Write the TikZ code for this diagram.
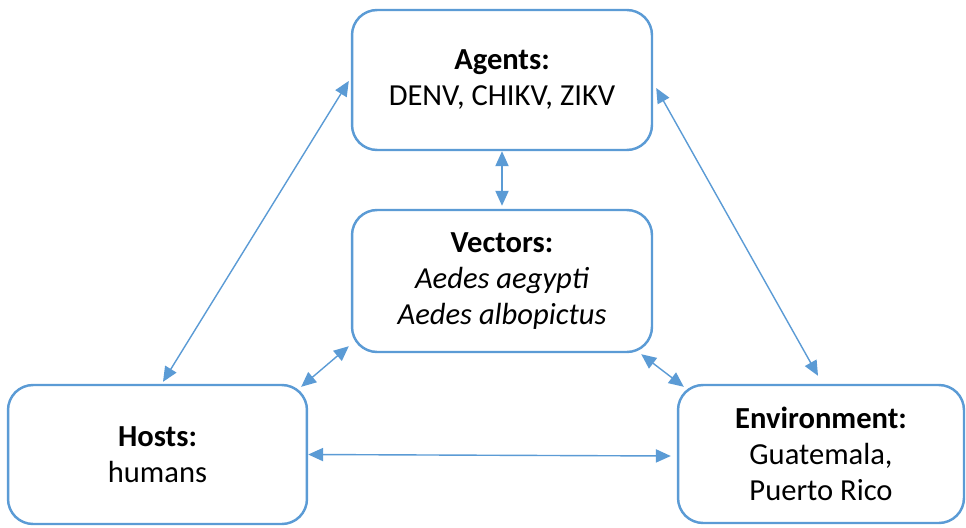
\documentclass[tikz,border=0pt]{standalone}
\usepackage{fontspec}
\setmainfont{Carlito}
\definecolor{boxblue}{RGB}{91, 155, 213}
\usetikzlibrary{arrows.meta, positioning, calc}

\tikzset{
  factorbox/.style={draw=boxblue, line width=1.4pt, rounded corners=0.5cm, fill=white,
    align=center, inner sep=4pt, font=\fontsize{17.4}{20.5}\selectfont},
  linkarrow/.style={draw=boxblue, line width=0.8pt,
    {Triangle[length=8.5pt, width=7.5pt]}-{Triangle[length=8.5pt, width=7.5pt]}}
}

\begin{document}
\begin{tikzpicture}[x=0.02cm, y=-0.02cm]
  \useasboundingbox (0, 0) rectangle (966, 527);

  % Boxes
  \node[factorbox, minimum width=6cm, minimum height=2.8cm] (agents) at (502, 80)
    {\textbf{Agents:}\\DENV, CHIKV, ZIKV};
  \node[factorbox, minimum width=6cm, minimum height=2.84cm] (vectors) at (502, 281)
    {\textbf{Vectors:}\\\textit{Aedes aegypti}\\\textit{Aedes albopictus}};
  \node[factorbox, minimum width=5.98cm, minimum height=2.78cm] (hosts) at (157.5, 454.5)
    {\textbf{Hosts:}\\humans};
  \node[factorbox, minimum width=5.72cm, minimum height=2.76cm] (env) at (821, 454)
    {\textbf{Environment:}\\Guatemala,\\Puerto Rico};

  % Links
  \draw[linkarrow] ([xshift=-0.04cm, yshift=-0.02cm]agents.west) -- ([xshift=0.11cm, yshift=0.04cm]hosts.north);
  \draw[linkarrow] (agents.south) -- ([yshift=0.06cm]vectors.north);
  \draw[linkarrow] ([xshift=0.06cm, yshift=-0.16cm]agents.east) -- ([xshift=-0.06cm, yshift=0.16cm]env.north);
  \draw[linkarrow] ([xshift=-0.04cm, yshift=0.14cm]vectors.south west) -- ([xshift=-0.14cm, yshift=-0.06cm]hosts.north east);
  \draw[linkarrow] ([xshift=-0.24cm, yshift=-0.02cm]vectors.south east) -- ([xshift=0.14cm, yshift=-0.06cm]env.north west);
  \draw[linkarrow] (hosts.east) -- ([xshift=-0.12cm, yshift=-0.04cm]env.west);
\end{tikzpicture}
\end{document}
